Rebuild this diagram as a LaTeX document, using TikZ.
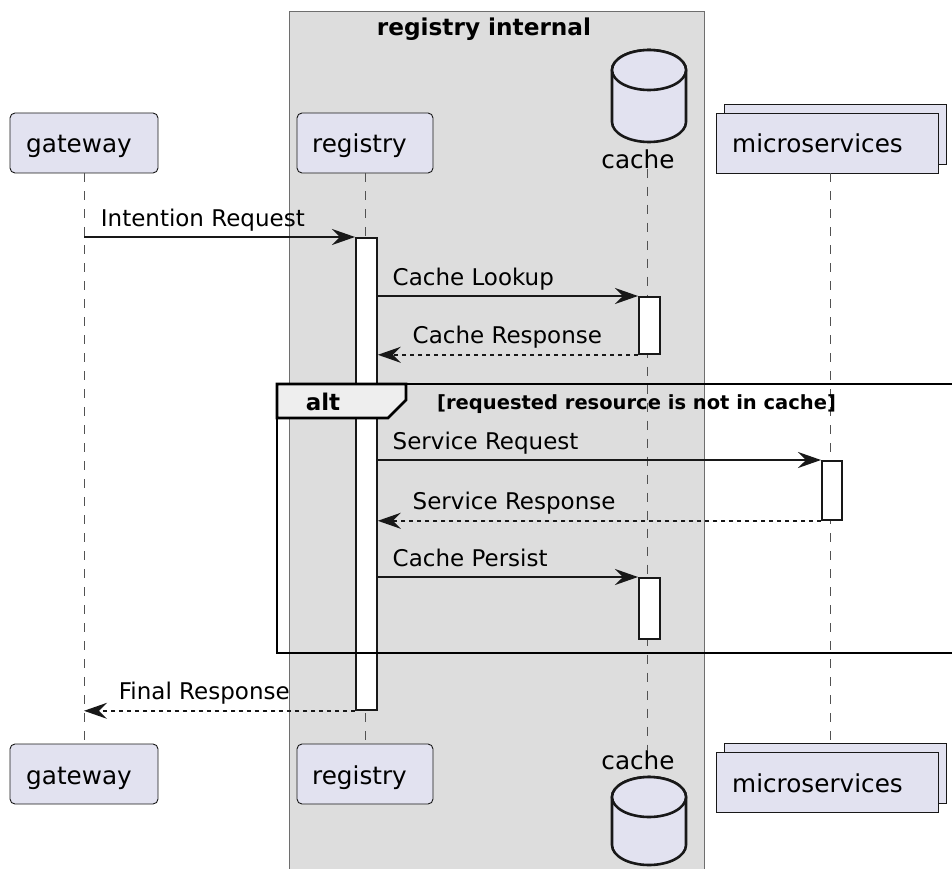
\documentclass[tikz,border=0pt]{standalone}
\usepackage{fontspec}
\setmainfont{DejaVu Sans}
\usetikzlibrary{arrows.meta}

\definecolor{partfill}{HTML}{E2E2F0}
\definecolor{linecol}{HTML}{181818}
\definecolor{groupfill}{HTML}{DDDDDD}
\definecolor{groupline}{HTML}{6E6E6E}
\definecolor{tabfill}{HTML}{EEEEEE}

\begin{document}
\begin{tikzpicture}[
    x=1pt, y=-1pt,
    participant/.style={rectangle, draw=linecol, fill=partfill, rounded corners=5pt, line width=0.9pt, minimum height=60pt, inner xsep=0pt, font=\fontsize{24.7}{28}\selectfont, text height=24pt, text depth=4pt},
    collection/.style={participant, rounded corners=0pt, minimum width=222pt},
    plabel/.style={inner sep=0pt, anchor=base, font=\fontsize{24.7}{28}\selectfont},
    activation/.style={rectangle, draw=linecol, fill=white, line width=1.8pt, minimum width=21pt, inner sep=0pt, anchor=north west},
    lifeline/.style={draw=linecol!75, line width=0.9pt, dash pattern=on 9pt off 9pt},
    msg/.style={draw=linecol, line width=1.8pt, -{Stealth[length=23pt, width=16pt, inset=8pt]}},
    reply/.style={msg, dash pattern=on 4pt off 4pt},
    msgtext/.style={inner sep=0pt, anchor=base west, font=\fontsize{23}{27}\selectfont},
    db/.style={draw=linecol, fill=partfill, line width=2.6pt},
    altframe/.style={draw=black, line width=2.8pt}
]
\useasboundingbox (0,0) rectangle (952,869);

% Group box
\fill[groupfill] (289,12) rectangle (704,869);
\draw[draw=groupline, line width=1pt] (289,869) -- (289,12) -- (704,12) -- (704,869);
\node[inner sep=0pt, anchor=base, font=\bfseries\fontsize{23.2}{27}\selectfont] (groupTitle) at (484,36) {registry internal};

% Participants (top)
\node[participant, minimum width=148pt] (gatewayTop) at (84,143) {gateway\kern10pt};
\node[participant, minimum width=136pt] (registryTop) at (365,143) {registry\kern11pt};
\path[db] (612,70) -- (612,122) arc[start angle=180, end angle=360, x radius=37pt, y radius=20pt]
    -- (686,70) arc[start angle=0, end angle=180, x radius=37pt, y radius=20pt] -- cycle;
\draw[db] (649,70) ellipse[x radius=37pt, y radius=20pt];
\node[plabel] (cacheTop) at (638,168) {cache};
\node[collection] (microTopBack) at (835,134) {};
\node[collection] (microTop) at (827,143) {microservices\kern19pt};

% Participants (bottom)
\node[participant, minimum width=148pt] (gatewayBot) at (84,774) {gateway\kern10pt};
\node[participant, minimum width=136pt] (registryBot) at (365,774) {registry\kern11pt};
\node[plabel] (cacheBot) at (638,769) {cache};
\path[db] (612,797) -- (612,845) arc[start angle=180, end angle=360, x radius=37pt, y radius=20pt]
    -- (686,797) arc[start angle=0, end angle=180, x radius=37pt, y radius=20pt] -- cycle;
\draw[db] (649,797) ellipse[x radius=37pt, y radius=20pt];
\node[collection] (microBotBack) at (835,773) {};
\node[collection] (microBot) at (827,782) {microservices\kern19pt};

% Lifelines
\coordinate (cacheLine) at (647,0);
\coordinate (microLine) at (830,0);
\draw[lifeline] (gatewayTop) -- (gatewayBot);
\draw[lifeline] (registryTop) -- (registryBot);
\draw[lifeline] (cacheLine |- cacheTop.south) -- (cacheLine |- cacheBot.north);
\draw[lifeline] (microLine |- microTop.south) -- (microLine |- microBotBack.north);

% Activations
\node[activation, minimum height=472pt] (regAct) at (355,237) {};
\node[activation, minimum height=57pt] (cacheAct1) at (638,296) {};
\node[activation, minimum height=59pt, minimum width=20pt] (microAct) at (821,460) {};
\node[activation, minimum height=61pt] (cacheAct2) at (638,577) {};

% alt frame
\draw[altframe] (952,384) -- (277,384) -- (277,653) -- (952,653);
\draw[altframe, fill=tabfill] (277,384) -- (406,384) -- (406,400) -- (388,418) -- (277,418) -- cycle;
\node[inner sep=0pt, anchor=base, font=\bfseries\fontsize{23}{27}\selectfont] (altLabel) at (323,410) {alt};
\node[inner sep=0pt, anchor=base west, font=\bfseries\fontsize{19.5}{23}\selectfont] (altCond) at (437,409) {[requested resource is not in cache]};

% Messages
\draw[msg] (gatewayTop.south |- regAct.north) -- (regAct.north west)
    node[msgtext, pos=0, xshift=16pt, yshift=11pt] {Intention Request};
\draw[msg] (regAct.east |- cacheAct1.north) -- (cacheAct1.north west)
    node[msgtext, pos=0, xshift=14pt, yshift=11pt] {Cache Lookup};
\draw[reply] (cacheAct1.south west) -- (regAct.east |- cacheAct1.south)
    node[msgtext, pos=1, xshift=34pt, yshift=11pt] {Cache Response};
\draw[msg] (regAct.east |- microAct.north) -- (microAct.north west)
    node[msgtext, pos=0, xshift=14pt, yshift=11pt] {Service Request};
\draw[reply] (microAct.south west) -- (regAct.east |- microAct.south)
    node[msgtext, pos=1, xshift=34pt, yshift=11pt] {Service Response};
\draw[msg] (regAct.east |- cacheAct2.north) -- (cacheAct2.north west)
    node[msgtext, pos=0, xshift=14pt, yshift=11pt] {Cache Persist};
\draw[reply] (regAct.south west) -- (gatewayTop.south |- regAct.south)
    node[msgtext, pos=1, xshift=34pt, yshift=11pt] {Final Response};

\end{tikzpicture}
\end{document}
